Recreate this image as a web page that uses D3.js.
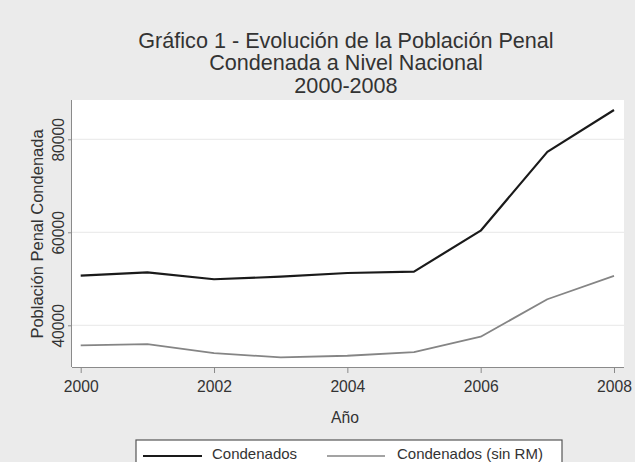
<!DOCTYPE html>
<html><head><meta charset="utf-8">
<script src="https://cdn.jsdelivr.net/npm/d3@7"></script>
<style>body{margin:0;background:#ebebeb;} svg{display:block;font-family:"Liberation Sans",Arial,sans-serif;}</style>
</head><body>
<svg id="c" width="635" height="462"></svg>
<script>
const years = [2000,2001,2002,2003,2004,2005,2006,2007,2008];
const condenados = [50700,51400,49900,50450,51250,51550,60350,77300,86300];
const condenadosSinRM = [35700,35950,34000,33100,33450,34250,37550,45600,50650];
const xTicks = [2000,2002,2004,2006,2008];
const yTicks = [40000,60000,80000];
const titleLines = ["Gráfico 1 - Evolución de la Población Penal","Condenada a Nivel Nacional","2000-2008"];
const seriesNames = ["Condenados","Condenados (sin RM)"];

const svg = d3.select("#c");
svg.append("rect").attr("width",635).attr("height",462).attr("fill","#ebebeb");

const plot = {l:72,t:100,r:624,b:367};
const x = d3.scaleLinear().domain([2000,2008]).range([80.7,614]);
const y = d3.scaleLinear().domain([40000,80000]).range([325.3,139.3]);

svg.append("rect").attr("x",plot.l).attr("y",plot.t).attr("width",plot.r-plot.l).attr("height",plot.b-plot.t).attr("fill","#ffffff");

// gridlines
svg.append("g").selectAll("line").data(yTicks).join("line")
  .attr("x1",plot.l).attr("x2",plot.r).attr("y1",d=>y(d)).attr("y2",d=>y(d))
  .attr("stroke","#ececec").attr("stroke-width",1.2);

// title
svg.append("g").selectAll("text").data(titleLines).join("text")
  .attr("x",346).attr("y",(d,i)=>47.5+i*22.7).attr("text-anchor","middle")
  .attr("font-size",21.6).attr("fill","#333").text(d=>d);

// x axis
const xa = svg.append("g").attr("transform",`translate(0,${plot.b})`)
  .call(d3.axisBottom(x).tickValues(xTicks).tickFormat(d3.format("d")).tickSize(6).tickSizeOuter(0).tickPadding(8));
xa.select(".domain").attr("d",`M${plot.l},0.5H${plot.r}`).attr("stroke","#8a8a8a");
xa.selectAll(".tick line").attr("stroke","#8a8a8a");
xa.selectAll(".tick text").attr("font-size",15.7).attr("fill","#333").attr("font-family","Liberation Sans, Arial, sans-serif");

// y axis
const ya = svg.append("g").attr("transform",`translate(${plot.l},0)`)
  .call(d3.axisLeft(y).tickValues(yTicks).tickFormat(d3.format("d")).tickSize(4).tickSizeOuter(0));
ya.select(".domain").attr("d",`M-0.5,${plot.t}V${plot.b}`).attr("stroke","#8a8a8a");
ya.selectAll(".tick line").attr("stroke","#8a8a8a");
ya.selectAll(".tick text").attr("font-size",15.7).attr("fill","#333").attr("font-family","Liberation Sans, Arial, sans-serif")
  .attr("x",0).attr("y",0).attr("dy",null).attr("text-anchor","middle")
  .attr("transform","translate(-8.5,0) rotate(-90)");

// axis titles
svg.append("text").attr("x",345).attr("y",423).attr("text-anchor","middle").attr("font-size",15.7).attr("fill","#333").text("Año");
svg.append("text").attr("transform","translate(43,234) rotate(-90)").attr("text-anchor","middle").attr("font-size",16.5).attr("fill","#333").text("Población Penal Condenada");

// lines
const line = d3.line().x((d,i)=>x(years[i])).y(d=>y(d));
svg.append("path").datum(condenadosSinRM).attr("d",line).attr("fill","none").attr("stroke","#858585").attr("stroke-width",1.8).attr("stroke-linejoin","round");
svg.append("path").datum(condenados).attr("d",line).attr("fill","none").attr("stroke","#1a1a1a").attr("stroke-width",2.2).attr("stroke-linejoin","round");

// legend
const lg = svg.append("g");
lg.append("rect").attr("x",136).attr("y",440).attr("width",426).attr("height",40).attr("fill","#fff").attr("stroke","#555").attr("stroke-width",1.2);
const legendItems = [
  {name:seriesNames[0], x1:143, x2:202, tx:212, color:"#1a1a1a", w:2.2},
  {name:seriesNames[1], x1:327, x2:385, tx:397, color:"#858585", w:1.6}
];
lg.selectAll("line").data(legendItems).join("line")
  .attr("x1",d=>d.x1).attr("x2",d=>d.x2).attr("y1",456).attr("y2",456)
  .attr("stroke",d=>d.color).attr("stroke-width",d=>d.w);
lg.selectAll("text").data(legendItems).join("text")
  .attr("x",d=>d.tx).attr("y",459).attr("font-size",15).attr("fill","#333").text(d=>d.name);
</script>
</body></html>
